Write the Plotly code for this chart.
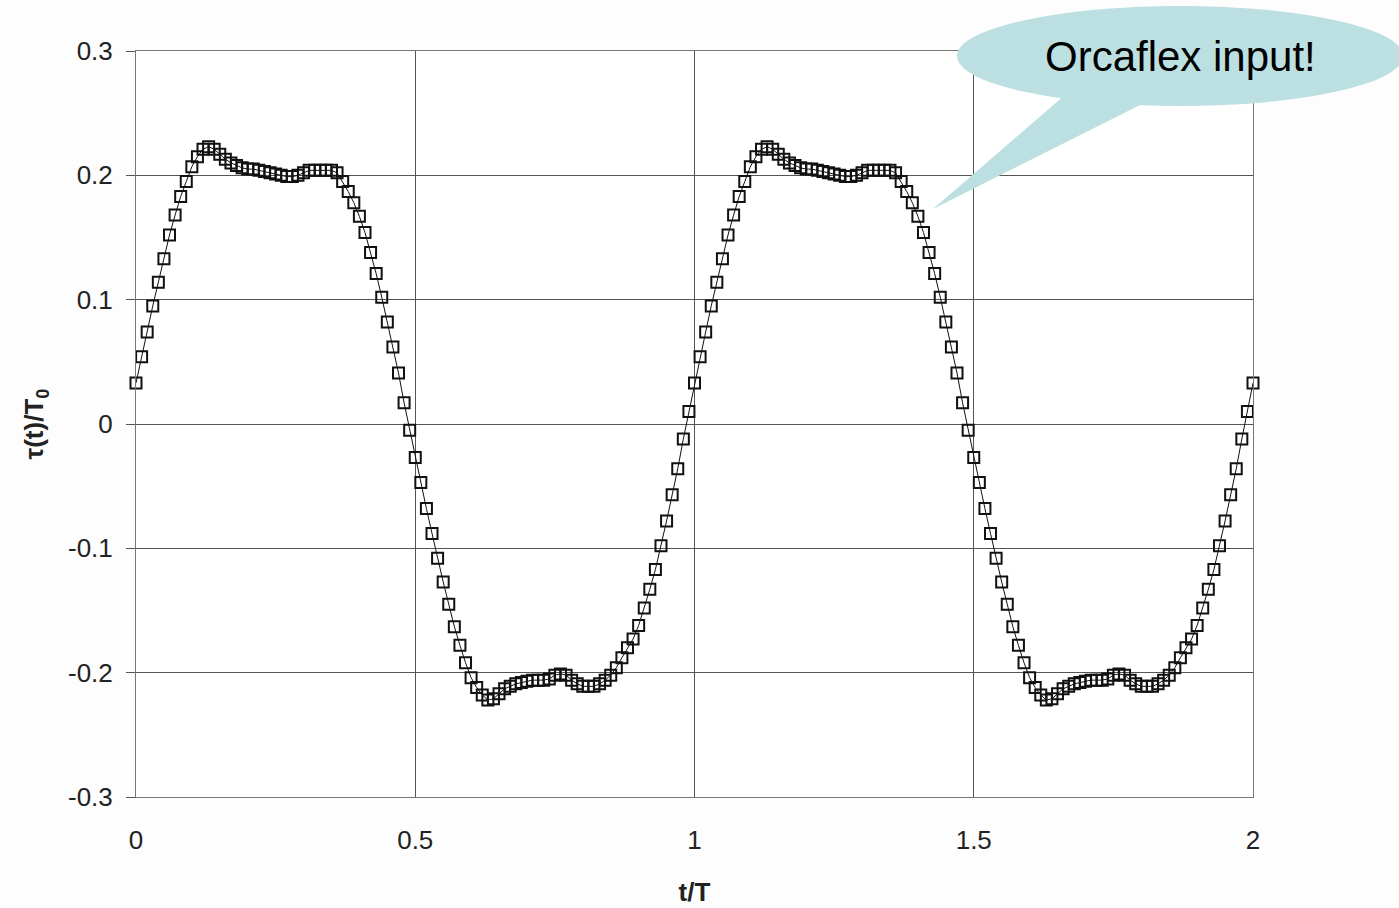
import plotly.graph_objects as go

# ---- data ----
t_over_T = [i / 100 for i in range(201)]

tau_period_1 = [
    0.033, 0.054, 0.074, 0.095, 0.114, 0.133, 0.152, 0.168, 0.183, 0.195,
    0.207, 0.215, 0.221, 0.223, 0.221, 0.217, 0.213, 0.210, 0.208, 0.206,
    0.205, 0.205, 0.204, 0.203, 0.202, 0.201, 0.200, 0.199, 0.199, 0.200,
    0.202, 0.204, 0.204, 0.204, 0.204, 0.204, 0.202, 0.195, 0.187, 0.178,
    0.167, 0.154, 0.138, 0.121, 0.102, 0.082, 0.062, 0.041, 0.017, -0.005,
    -0.027, -0.047, -0.068, -0.088, -0.108, -0.127, -0.145, -0.163, -0.178, -0.192,
    -0.204, -0.212, -0.218, -0.222, -0.221, -0.217, -0.213, -0.211, -0.209, -0.208,
    -0.207, -0.206, -0.206, -0.206, -0.205, -0.202, -0.201, -0.202, -0.206, -0.209,
    -0.211, -0.211, -0.211, -0.209, -0.206, -0.202, -0.196, -0.188, -0.180, -0.173,
    -0.162, -0.148, -0.133, -0.117, -0.098, -0.078, -0.057, -0.036, -0.012, 0.010,
]
tau_period_2 = [
    0.033, 0.054, 0.074, 0.095, 0.114, 0.133, 0.152, 0.168, 0.183, 0.195,
    0.207, 0.215, 0.221, 0.223, 0.221, 0.217, 0.213, 0.210, 0.208, 0.206,
    0.205, 0.205, 0.204, 0.203, 0.202, 0.201, 0.200, 0.199, 0.199, 0.200,
    0.202, 0.204, 0.204, 0.204, 0.204, 0.204, 0.202, 0.195, 0.187, 0.178,
    0.167, 0.154, 0.138, 0.121, 0.102, 0.082, 0.062, 0.041, 0.017, -0.005,
    -0.027, -0.047, -0.068, -0.088, -0.108, -0.127, -0.145, -0.163, -0.178, -0.192,
    -0.204, -0.212, -0.218, -0.222, -0.221, -0.217, -0.213, -0.211, -0.209, -0.208,
    -0.207, -0.206, -0.206, -0.206, -0.205, -0.202, -0.201, -0.202, -0.206, -0.209,
    -0.211, -0.211, -0.211, -0.209, -0.206, -0.202, -0.196, -0.188, -0.180, -0.173,
    -0.162, -0.148, -0.133, -0.117, -0.098, -0.078, -0.057, -0.036, -0.012, 0.010,
]
tau_end = [0.033]
tau = tau_period_1 + tau_period_2 + tau_end

x_tick_vals = [0, 0.5, 1, 1.5, 2]
x_tick_text = ["0", "0.5", "1", "1.5", "2"]
y_tick_vals = [-0.3, -0.2, -0.1, 0, 0.1, 0.2, 0.3]
y_tick_text = ["-0.3", "-0.2", "-0.1", "0", "0.1", "0.2", "0.3"]

callout_text = "Orcaflex input!"

# ---- figure ----
W, H = 1399, 908
L, R, T, B = 136, 146, 51, 111
pw, ph = W - L - R, H - T - B


def px(x):
    return (x - L) / pw


def py(y):
    return (H - B - y) / ph


font = "Liberation Sans, Arial, sans-serif"
fig = go.Figure()
fig.add_trace(go.Scatter(
    x=t_over_T, y=tau, mode="lines+markers",
    line=dict(color="#111111", width=1),
    marker=dict(symbol="square-open", size=11, color="#111111",
                line=dict(width=2, color="#111111")),
    showlegend=False, cliponaxis=False,
))

callout_color = "#bcdfe2"
fig.add_shape(type="path", xref="paper", yref="paper",
              path=f"M {px(1065)} {py(95)} L {px(1150)} {py(100)} L {px(933)} {py(209)} Z",
              fillcolor=callout_color, line=dict(width=0), layer="above")
fig.add_shape(type="circle", xref="paper", yref="paper",
              x0=px(957), x1=px(1403), y0=py(106), y1=py(6),
              fillcolor=callout_color, line=dict(width=0), layer="above")
fig.add_annotation(xref="paper", yref="paper", x=px(1180), y=py(56),
                   xanchor="center", yanchor="middle",
                   text=callout_text, showarrow=False,
                   font=dict(family=font, size=42, color="#000000"))

axis_common = dict(
    showgrid=True, gridcolor="#555555", gridwidth=1,
    showline=True, linecolor="#777777", linewidth=1, mirror=True,
    zeroline=False,
    tickfont=dict(family=font, size=26, color="#222222"),
)
fig.update_xaxes(
    range=[0, 2], tickmode="array", tickvals=x_tick_vals, ticktext=x_tick_text,
    ticks="", ticklabelstandoff=20,
    title=dict(text="<b>t/T</b>", font=dict(family=font, size=26, color="#222222"),
               standoff=28),
    **axis_common,
)
fig.update_yaxes(
    range=[-0.3, 0.3], tickmode="array", tickvals=y_tick_vals, ticktext=y_tick_text,
    ticks="outside", ticklen=9, tickcolor="#555555", ticklabelstandoff=8,
    title=dict(text="<b>τ(t)/T<sub>0</sub></b>",
               font=dict(family=font, size=26, color="#222222"), standoff=16),
    **axis_common,
)
fig.update_layout(
    width=W, height=H, margin=dict(l=L, r=R, t=T, b=B, autoexpand=False),
    paper_bgcolor="#fdfdfd", plot_bgcolor="#ffffff",
    font=dict(family=font),
)
fig.write_html("out.html")
